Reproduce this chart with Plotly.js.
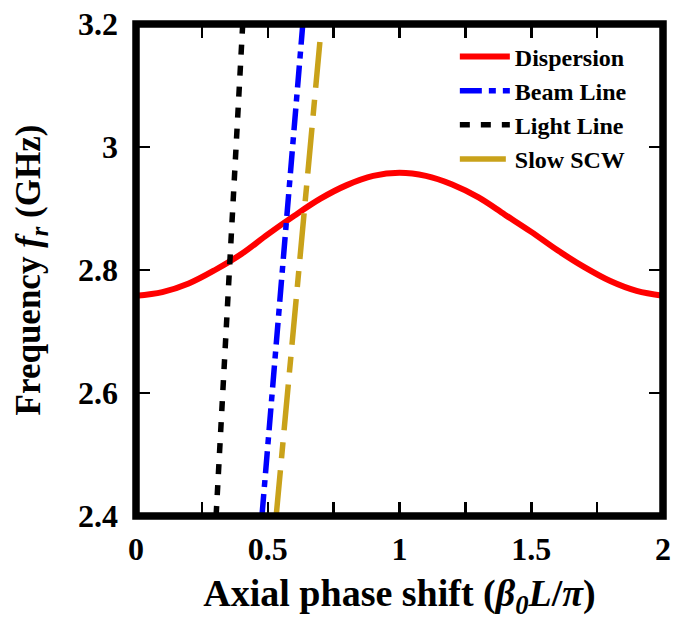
<!DOCTYPE html>
<html>
<head>
<meta charset="utf-8">
<script src="https://cdn.plot.ly/plotly-3.0.1.min.js"></script>
<style>html,body{margin:0;padding:0;background:#fff;}#chart{width:674px;height:620px;}</style>
</head>
<body>
<div id="chart"></div>
<script>
// Dispersion curve
const phaseShift = [0, 0.1, 0.2, 0.3, 0.4, 0.5, 0.6, 0.7, 0.8, 0.9, 1.0, 1.1, 1.2, 1.3, 1.4, 1.5, 1.6, 1.7, 1.8, 1.9, 2.0];
const dispersionFreq = [2.758, 2.764, 2.778, 2.800, 2.826, 2.858, 2.888, 2.916, 2.938, 2.953, 2.958, 2.953, 2.939, 2.918, 2.890, 2.862, 2.832, 2.805, 2.782, 2.766, 2.758];

// Straight lines (end points)
const beamX = [0.478, 0.633];
const beamF = [2.4, 3.2];
const lightX = [0.304, 0.405];
const lightF = [2.4, 3.2];
const scwX = [0.532, 0.702];
const scwF = [2.4, 3.19];

// Tick labels
const xTickVals = [0, 0.25, 0.5, 0.75, 1, 1.25, 1.5, 1.75, 2];
const xTickText = ['0', '', '0.5', '', '1', '', '1.5', '', '2'];
const yTickVals = [2.4, 2.6, 2.8, 3.0, 3.2];
const yTickText = ['2.4', '2.6', '2.8', '3', '3.2'];

const FONT = 'Liberation Serif, Times New Roman, serif';

const traces = [
  {x: phaseShift, y: dispersionFreq, name: 'Dispersion', mode: 'lines',
   line: {color: '#ff0000', width: 6, shape: 'spline'}},
  {x: beamX, y: beamF, name: 'Beam Line', mode: 'lines',
   line: {color: '#0000ff', width: 5.5, dash: '22px,7px,7px,7px'}},
  {x: lightX, y: lightF, name: 'Light Line', mode: 'lines',
   line: {color: '#000000', width: 5.5, dash: '10px,11px'}},
  {x: scwX, y: scwF, name: 'Slow SCW', mode: 'lines',
   line: {color: '#c9a21a', width: 5.5, dash: '46px,12px,16px,12px'}}
];

const layout = {
  width: 674, height: 620,
  margin: {l: 136, r: 11, t: 23.5, b: 103.5},
  paper_bgcolor: '#ffffff', plot_bgcolor: '#ffffff',
  font: {family: FONT, color: '#000', weight: 'bold'},
  showlegend: true,
  legend: {x: 0.605, xanchor: 'left', y: 0.979, yanchor: 'top',
           bgcolor: 'rgba(0,0,0,0)', borderwidth: 0, itemwidth: 50,
           font: {family: FONT, size: 24, color: '#000', weight: 'bold'},
           tracegroupgap: 0},
  xaxis: {range: [0, 2], tickmode: 'array', tickvals: xTickVals, ticktext: xTickText,
          ticks: 'inside', ticklen: 14, tickwidth: 2.5, tickcolor: '#000',
          mirror: 'ticks', showline: false, showgrid: false, zeroline: false,
          ticklabelstandoff: 11,
          tickfont: {family: FONT, size: 32, color: '#000', weight: 'bold'},
          title: {text: 'Axial phase shift (<i>β</i><sub><i>0</i></sub><i>L</i>/<i>π</i>)',
                  font: {family: FONT, size: 38, color: '#000', weight: 'bold'}, standoff: 14}},
  yaxis: {range: [2.4, 3.2], tickmode: 'array', tickvals: yTickVals, ticktext: yTickText,
          ticks: 'inside', ticklen: 14, tickwidth: 2.5, tickcolor: '#000',
          mirror: 'ticks', showline: false, showgrid: false, zeroline: false,
          ticklabelstandoff: 17,
          tickfont: {family: FONT, size: 32, color: '#000', weight: 'bold'},
          title: {text: 'Frequency <i>f</i><sub><i>r</i></sub> (GHz)',
                  font: {family: FONT, size: 35, color: '#000', weight: 'bold'}, standoff: 26}},
  shapes: [{type: 'rect', xref: 'paper', yref: 'paper', x0: 0, x1: 1, y0: 0, y1: 1,
            line: {color: '#000', width: 7.5}, layer: 'above'}]
};

Plotly.newPlot('chart', traces, layout, {staticPlot: true, displayModeBar: false});
</script>
</body>
</html>
